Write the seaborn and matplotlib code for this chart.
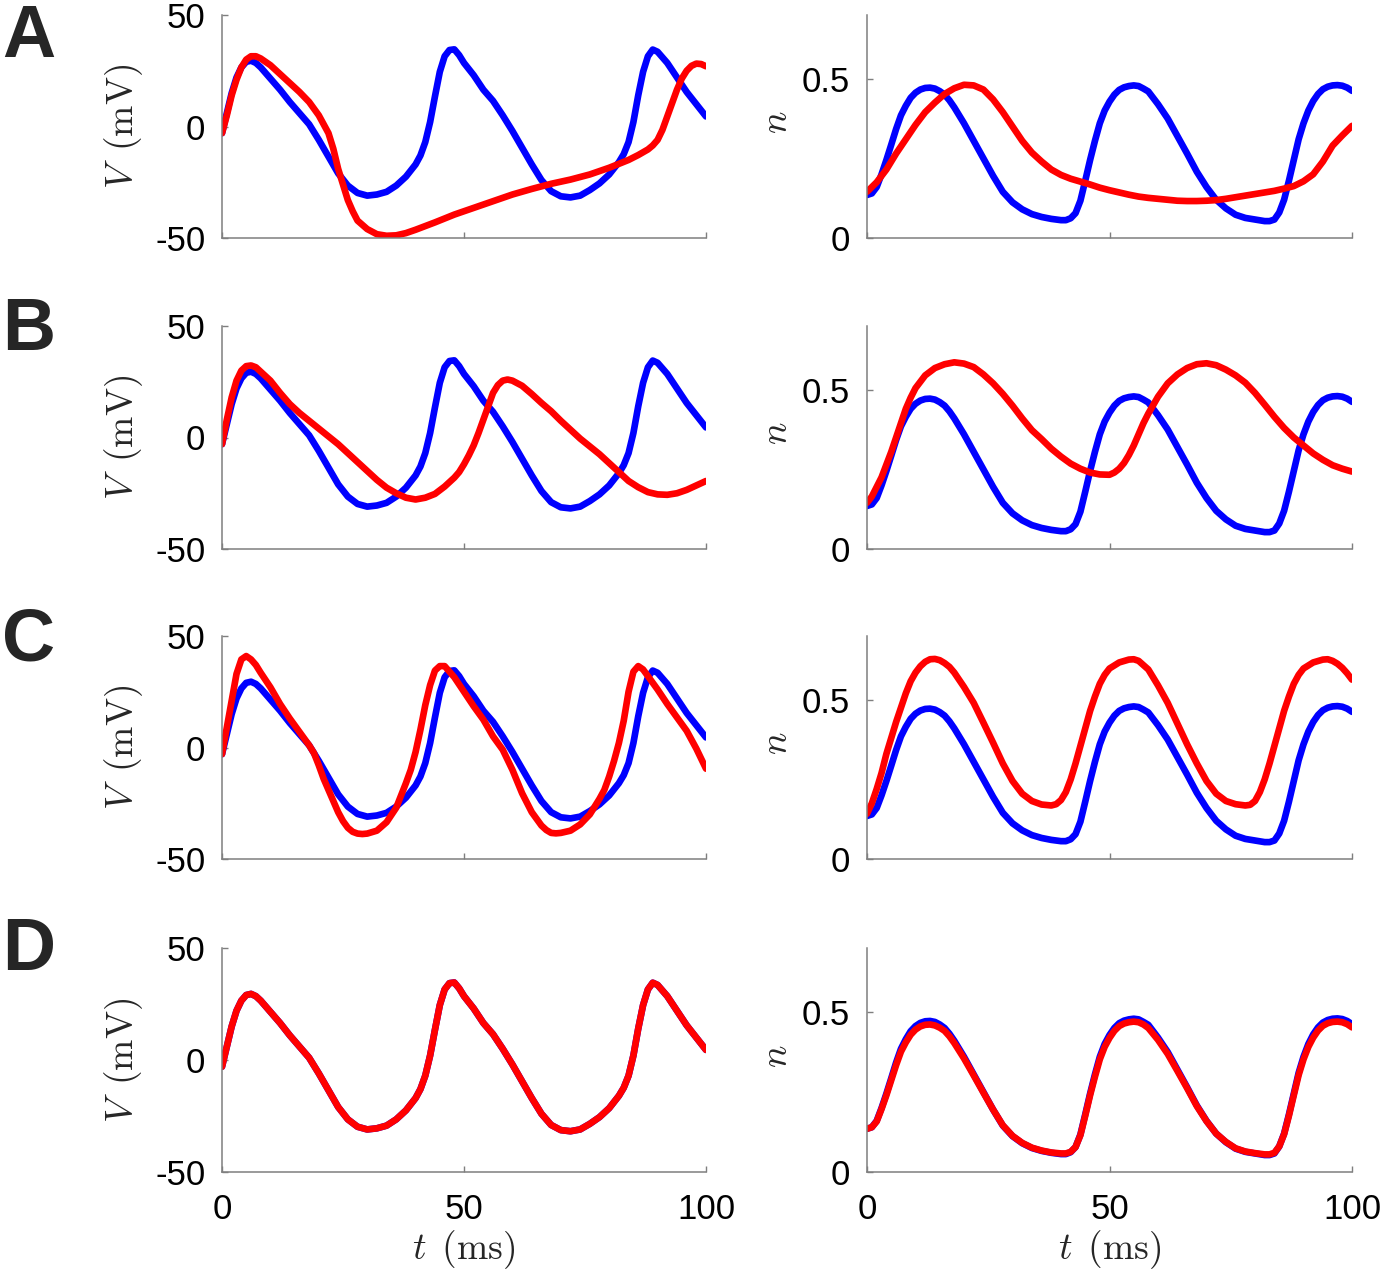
import matplotlib
matplotlib.use("Agg")
import matplotlib.pyplot as plt
import seaborn as sns

# ---------------- data ----------------
# reference (blue) membrane potential, same in all rows
t_blue_V = [0, 1, 2, 3, 4, 5, 6, 7, 8, 10, 12, 14, 16, 18, 20, 22, 24, 26, 28, 30,
            32, 34, 36, 38, 40, 41, 42, 43, 44, 45, 46, 47, 48, 49, 50, 52, 54, 56,
            58, 60, 62, 64, 66, 68, 70, 72, 74, 76, 78, 80, 82, 83, 84, 85, 86, 87,
            88, 89, 90, 91, 92, 94, 96, 98, 100]
blue_V = [-3, 6, 15, 22, 26.5, 29, 29.5, 28.5, 26.5, 21.5, 16.5, 11, 6, 1, -6, -13.5,
          -21, -26.5, -29.8, -31, -30.5, -29.3, -26.5, -22.5, -17, -13, -7, 2, 13.5,
          24.5, 31.5, 34.3, 34.6, 32, 28.5, 23, 16.5, 11.5, 5, -2, -9.5, -17, -24, -29,
          -31.3, -31.8, -31, -28.5, -25.5, -21.5, -16, -12.4, -7, 2, 14, 24.5, 31.5,
          34.5, 33.5, 31, 28.5, 22, 15.5, 10, 4.5]

# reference (blue) gating variable n
t_blue_n = [0, 1, 2, 3, 4, 5, 6, 7, 8, 9, 10, 11, 12, 13, 14, 15, 16, 17, 18,
            20, 22, 24, 26, 28, 30, 32, 34, 36, 38, 40,
            41, 42, 43, 44, 45, 46, 47, 48, 49, 50, 51, 52, 53, 54, 55, 56, 57, 58,
            60, 62, 64, 66, 68, 70, 72, 74, 76, 78, 80, 82,
            83, 84, 85, 86, 87, 88, 89, 90, 91, 92, 93, 94, 95, 96, 97, 98, 99, 100]
blue_n = [0.135, 0.14, 0.16, 0.20, 0.245, 0.293, 0.342, 0.385, 0.415, 0.44, 0.456,
          0.466, 0.471, 0.472, 0.469, 0.461, 0.45, 0.432, 0.41,
          0.36, 0.305, 0.25, 0.195, 0.145, 0.112, 0.09, 0.075, 0.066, 0.06, 0.056,
          0.056, 0.062, 0.078, 0.117, 0.18, 0.245, 0.305, 0.36, 0.40, 0.428, 0.45,
          0.465, 0.473, 0.477, 0.479, 0.477, 0.469, 0.46,
          0.42, 0.375, 0.32, 0.265, 0.208, 0.16, 0.12, 0.093, 0.073, 0.063, 0.058, 0.053,
          0.053, 0.058, 0.08, 0.12, 0.18, 0.245, 0.31, 0.36, 0.40, 0.43, 0.452, 0.467,
          0.475, 0.479, 0.48, 0.478, 0.472, 0.462]

# row A (red)
t_A_V = [0, 1, 2, 3, 4, 5, 6, 7, 8, 10, 12, 14, 16, 18, 20, 21, 22, 23, 24, 25, 26,
         27, 28, 30, 32, 34, 36, 38, 40, 44, 48, 52, 56, 60, 64, 68, 72, 76, 80, 84,
         86, 88, 89, 90, 91, 92, 93, 94, 95, 96, 97, 98, 99, 100]
A_V = [-3, 5, 14, 21, 26.5, 30, 31.5, 31.5, 30.5, 27.5, 23.5, 19.5, 15.5, 11, 5, 1,
       -3, -10, -19, -26, -33, -38, -42.2, -46, -48.3, -49, -48.8, -47.8, -46.3, -43,
       -39.5, -36.5, -33.5, -30.5, -28, -25.7, -23.8, -21.5, -18.5, -15, -12.8, -10.3,
       -8.5, -6, -1.5, 4.5, 10.5, 16.5, 21.5, 25, 27.2, 28.2, 28, 27]
t_A_n = list(range(0, 101, 2))
A_n = [0.145, 0.175, 0.215, 0.265, 0.31, 0.355, 0.395, 0.425, 0.452, 0.47, 0.481,
       0.479, 0.466, 0.435, 0.395, 0.35, 0.305, 0.268, 0.24, 0.215, 0.198, 0.186,
       0.177, 0.168, 0.158, 0.15, 0.143, 0.136, 0.13, 0.126, 0.123, 0.12, 0.117, 0.116,
       0.116, 0.117, 0.119, 0.123, 0.128, 0.133, 0.138, 0.143, 0.148, 0.155, 0.163,
       0.178, 0.20, 0.24, 0.29, 0.322, 0.352]

# row B (red)
t_B_V = [0, 1, 2, 3, 4, 5, 6, 7, 8, 10, 12, 14, 16, 18, 20, 22, 24, 26, 28, 30, 32,
         34, 36, 38, 40, 42, 44, 46, 48, 49, 50, 51, 52, 53, 54, 55, 56, 57, 58, 59,
         60, 62, 64, 66, 68, 70, 72, 74, 76, 78, 80, 82, 84, 86, 88, 90, 92, 94, 96,
         98, 100]
B_V = [-3, 8, 18, 25.5, 30, 32, 32.3, 31.5, 29.5, 25.5, 20, 15, 11, 7.5, 4, 0.5, -3,
       -7, -11, -15, -19, -22.5, -25, -27, -27.8, -27, -25.3, -22, -18, -15.5, -12,
       -8, -3.5, 2, 8, 14, 20, 23.5, 25.5, 26, 25.5, 23.2, 19.5, 15.5, 11.8, 7.5, 3.5,
       -0.5, -4, -7.5, -11.5, -15.5, -19.5, -22.3, -24.5, -25.5, -25.7, -25, -23.5,
       -21.5, -19.5]
t_B_n = [0, 1, 2, 3, 4, 5, 6, 7, 8, 9, 10, 12, 14, 16, 18, 20, 22, 24, 26, 28, 30,
         32, 34, 36, 38, 40, 42, 44, 46, 48, 50, 51, 52, 53, 54, 55, 56, 57, 58, 60,
         62, 64, 66, 68, 70, 72, 74, 76, 78, 80, 82, 84, 86, 88, 90, 92, 94, 96, 98, 100]
B_n = [0.145, 0.165, 0.195, 0.225, 0.265, 0.305, 0.35, 0.395, 0.44, 0.475, 0.505,
       0.545, 0.568, 0.58, 0.586, 0.582, 0.571, 0.548, 0.52, 0.487, 0.45, 0.41, 0.373,
       0.345, 0.315, 0.29, 0.268, 0.252, 0.24, 0.234, 0.233, 0.24, 0.252, 0.27, 0.295,
       0.325, 0.36, 0.395, 0.425, 0.478, 0.52, 0.548, 0.568, 0.58, 0.583, 0.577,
       0.563, 0.545, 0.522, 0.49, 0.453, 0.415, 0.38, 0.35, 0.325, 0.3, 0.28, 0.263,
       0.252, 0.243]

# row C (red)
t_C_V = [0, 1, 2, 3, 4, 5, 6, 7, 8, 10, 12, 14, 16, 18, 19, 20, 21, 22, 23, 24, 25,
         26, 27, 28, 29, 30, 32, 34, 36, 38, 39, 40, 41, 42, 43, 44, 45, 46, 47, 48,
         50, 52, 54, 56, 58, 60, 62, 64, 66, 67, 68, 69, 70, 72, 74, 76, 78, 79, 80,
         81, 82, 83, 84, 85, 86, 87, 88, 90, 92, 94, 96, 98, 100]
C_V = [-3, 9, 21, 33, 39.5, 41, 39.5, 37, 33.5, 27, 19.5, 13, 7, 1, -2.5, -8, -14,
       -19, -24, -29, -33, -36, -37.8, -38.6, -38.8, -38.6, -37.3, -33.5, -27, -16,
       -10, -2, 8, 19, 28, 34.5, 36.5, 36.5, 34, 31.5, 25, 18.5, 12.5, 5, -1, -10,
       -20.5, -29, -35, -37, -38.3, -38.5, -38.3, -37.3, -34.5, -30, -23, -19, -13,
       -6, 2, 12, 25, 34, 36.5, 35, 32, 26, 19.5, 13.5, 7.5, -0.5, -9.5]
t_C_n = [0, 1, 2, 3, 4, 5, 6, 7, 8, 9, 10, 11, 12, 13, 14, 15, 16, 17, 18,
         20, 22, 24, 26, 28, 30, 32, 34, 36, 38,
         39, 40, 41, 42, 43, 44, 45, 46, 47, 48, 49, 50,
         52, 54, 55, 56, 58,
         60, 62, 64, 66, 68, 70, 72, 74, 76, 78,
         79, 80, 81, 82, 83, 84, 85, 86, 87, 88, 89, 90,
         92, 94, 95, 96, 97, 98, 99, 100]
C_n = [0.142, 0.175, 0.22, 0.27, 0.33, 0.38, 0.43, 0.475, 0.52, 0.558, 0.585, 0.605,
       0.619, 0.627, 0.628, 0.624, 0.615, 0.603, 0.585,
       0.54, 0.49, 0.428, 0.365, 0.3, 0.245, 0.205, 0.182, 0.171, 0.168,
       0.172, 0.185, 0.21, 0.25, 0.3, 0.355, 0.41, 0.465, 0.51, 0.55, 0.578, 0.598,
       0.617, 0.626, 0.627, 0.622, 0.595,
       0.545, 0.49, 0.425, 0.36, 0.3, 0.245, 0.205, 0.182, 0.172, 0.168,
       0.17, 0.182, 0.21, 0.25, 0.3, 0.355, 0.41, 0.465, 0.51, 0.55, 0.578, 0.598,
       0.617, 0.626, 0.627, 0.622, 0.613, 0.6, 0.583, 0.563]

# row D (red) - lies almost exactly on the blue reference
t_D_V = list(t_blue_V)
D_V = [-3, 6, 15, 22, 26.5, 29, 29.5, 28.5, 26.5, 21.5, 16.5, 11, 6, 1, -6, -13.5,
       -21, -26.5, -29.8, -31, -30.5, -29.3, -26.5, -22.5, -17, -13, -7, 2, 13.5,
       24.5, 31.5, 34.3, 34.6, 32, 28.5, 23, 16.5, 11.5, 5, -2, -9.5, -17, -24, -29,
       -31.3, -31.8, -31, -28.5, -25.5, -21.5, -16, -12.4, -7, 2, 14, 24.5, 31.5,
       34.5, 33.5, 31, 28.5, 22, 15.5, 10, 4.5]
t_D_n = list(t_blue_n)
D_n = [0.135, 0.14, 0.158, 0.197, 0.24, 0.287, 0.334, 0.376, 0.405, 0.429, 0.445,
       0.455, 0.46, 0.461, 0.458, 0.451, 0.441, 0.424, 0.403,
       0.355, 0.302, 0.248, 0.195, 0.146, 0.113, 0.091, 0.076, 0.067, 0.061, 0.058,
       0.058, 0.063, 0.078, 0.115, 0.176, 0.24, 0.298, 0.352, 0.391, 0.419, 0.441,
       0.456, 0.464, 0.468, 0.47, 0.468, 0.461, 0.45,
       0.413, 0.369, 0.316, 0.262, 0.206, 0.159, 0.12, 0.094, 0.074, 0.064, 0.059, 0.055,
       0.055, 0.06, 0.08, 0.118, 0.176, 0.24, 0.303, 0.352, 0.391, 0.42, 0.442, 0.457,
       0.465, 0.469, 0.47, 0.468, 0.462, 0.452]

panel_letters = ["A", "B", "C", "D"]
red_V = [(t_A_V, A_V), (t_B_V, B_V), (t_C_V, C_V), (t_D_V, D_V)]
red_n = [(t_A_n, A_n), (t_B_n, B_n), (t_C_n, C_n), (t_D_n, D_n)]

x_ticks = [0, 50, 100]
V_ticks = [-50, 0, 50]
V_ticklabels = ["-50", "0", "50"]
n_ticks = [0, 0.5]
n_ticklabels = ["0", "0.5"]

# ---------------- drawing ----------------
sns.set_theme(style="ticks")
plt.rcParams["font.family"] = ["Liberation Sans", "DejaVu Sans"]
plt.rcParams["mathtext.fontset"] = "cm"

W, H = 1382, 1273
fig = plt.figure(figsize=(W / 100, H / 100), dpi=100)
fig.patch.set_facecolor("white")

left_x = (222, 706)
right_x = (867, 1352)
rows = [(15, 238), (326, 549), (636, 859), (948, 1172)]
letter_base = [57, 350, 660, 970]

BLUE = "#0000ff"
RED = "#ff0000"
GRAY = "#7f7f7f"
LW = 4.8


def rect(xs, ys):
    return [xs[0] / W, 1 - ys[1] / H, (xs[1] - xs[0]) / W, (ys[1] - ys[0]) / H]


def style(ax, ylim, yticks, yticklabels, show_x):
    ax.set_facecolor("white")
    ax.set_xlim(0, 100)
    ax.set_ylim(*ylim)
    ax.set_xticks(x_ticks)
    ax.set_yticks(yticks)
    ax.set_yticklabels(yticklabels)
    if show_x:
        ax.set_xticklabels([str(v) for v in x_ticks])
    else:
        ax.set_xticklabels([])
    for s in ["top", "right"]:
        ax.spines[s].set_visible(False)
    for s in ["left", "bottom"]:
        ax.spines[s].set_color(GRAY)
        ax.spines[s].set_linewidth(1.1)
    ax.tick_params(direction="in", length=4, width=1, color=GRAY,
                   labelsize=25, labelcolor="black")
    ax.tick_params(axis="x", pad=15)
    ax.tick_params(axis="y", pad=12)
    ax.set_xlabel("")
    ax.set_ylabel("")
    ax.grid(False)


for i in range(4):
    axV = fig.add_axes(rect(left_x, rows[i]))
    axN = fig.add_axes(rect(right_x, rows[i]))

    sns.lineplot(x=t_blue_V, y=blue_V, ax=axV, color=BLUE, lw=LW,
                 estimator=None, sort=False)
    sns.lineplot(x=red_V[i][0], y=red_V[i][1], ax=axV, color=RED, lw=LW,
                 estimator=None, sort=False)
    sns.lineplot(x=t_blue_n, y=blue_n, ax=axN, color=BLUE, lw=LW,
                 estimator=None, sort=False)
    sns.lineplot(x=red_n[i][0], y=red_n[i][1], ax=axN, color=RED, lw=LW,
                 estimator=None, sort=False)

    show_x = (i == 3)
    style(axV, (-50, 50), V_ticks, V_ticklabels, show_x)
    style(axN, (0, 0.7), n_ticks, n_ticklabels, show_x)

    cy = 1 - (rows[i][0] + rows[i][1]) / 2 / H
    fig.text(124 / W, cy, r"$V\ \,(\mathrm{mV})$", rotation=90, fontsize=27,
             ha="center", va="center")
    fig.text(777 / W, cy + 4 / H, r"$n$", rotation=90, fontsize=27,
             ha="center", va="center")
    fig.text(29 / W, 1 - letter_base[i] / H, panel_letters[i], fontsize=53,
             fontweight="bold", ha="center", va="baseline")

fig.text(464 / W, 1 - 1250 / H, r"$t\ \,(\mathrm{ms})$", fontsize=27,
         ha="center", va="center")
fig.text(1110 / W, 1 - 1250 / H, r"$t\ \,(\mathrm{ms})$", fontsize=27,
         ha="center", va="center")

fig.savefig("out.png", dpi=100, facecolor="white")
